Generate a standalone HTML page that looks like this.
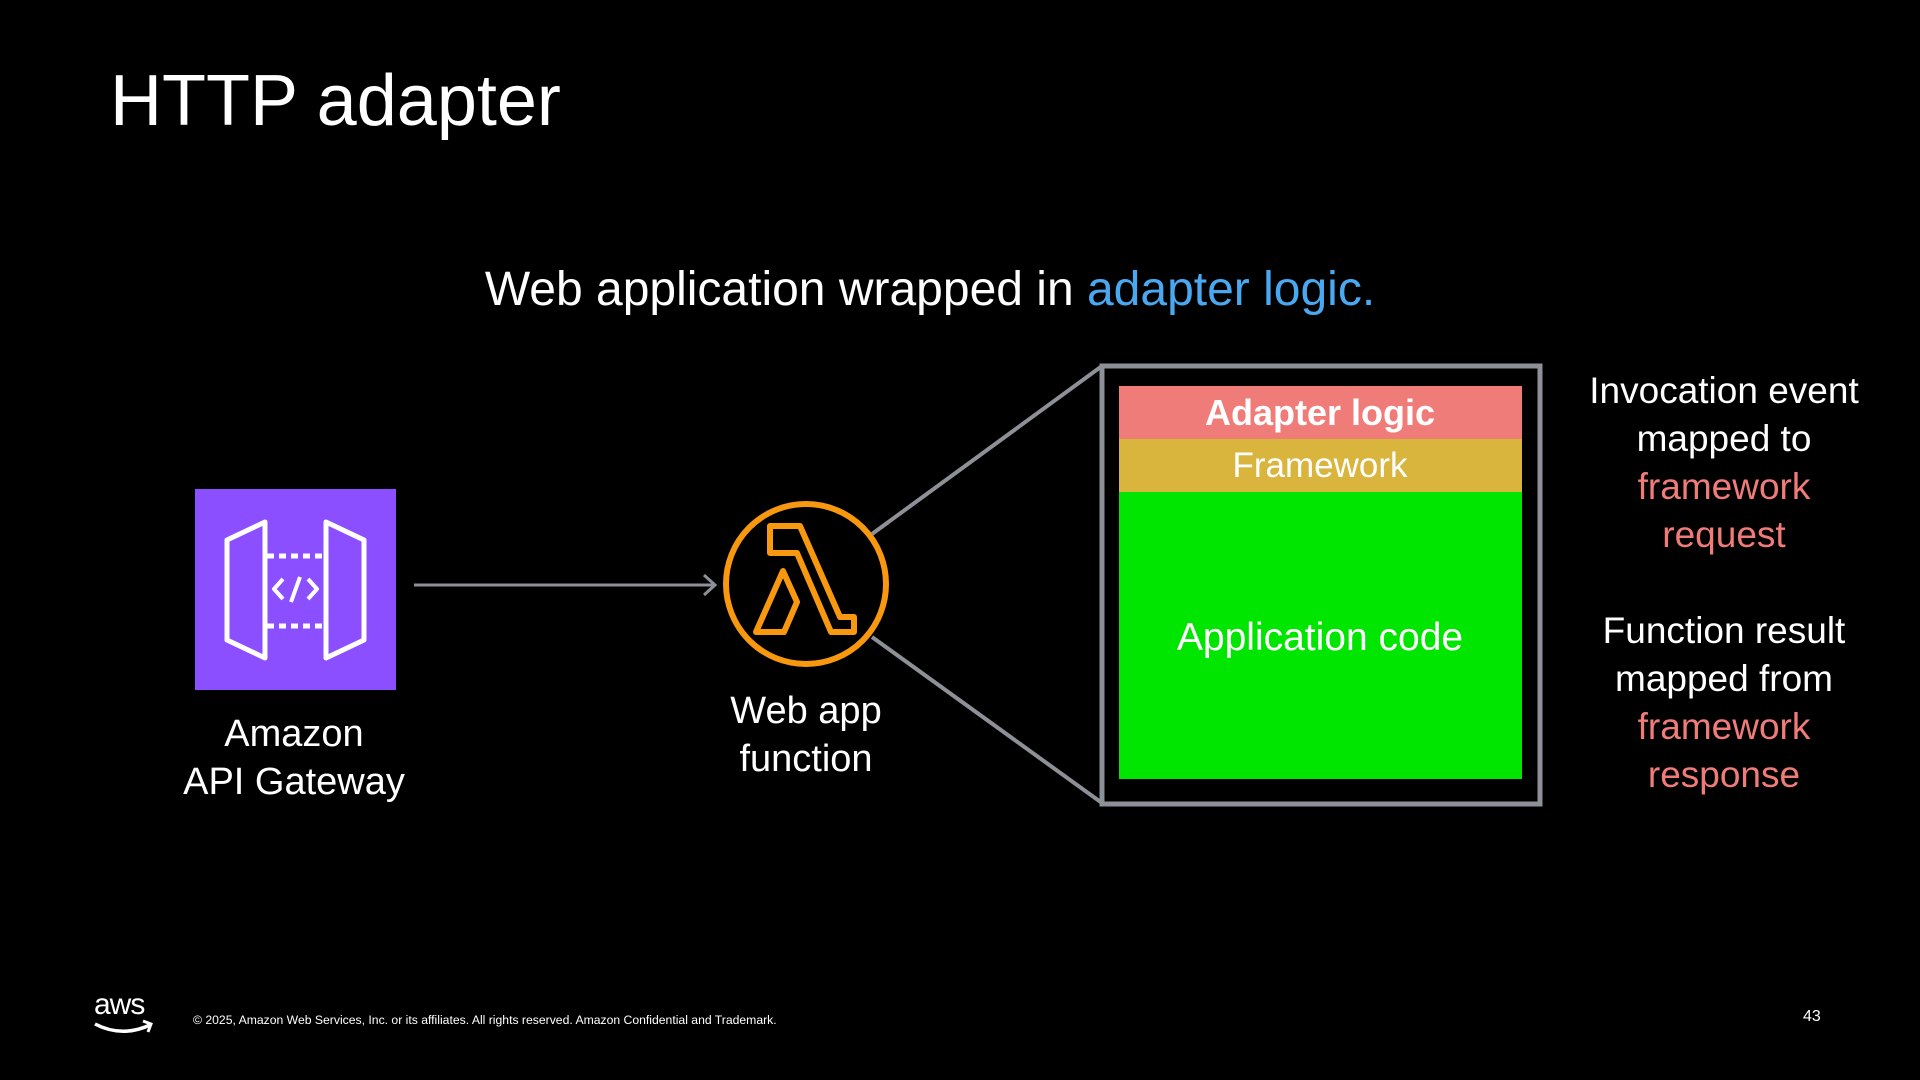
<!DOCTYPE html>
<html><head><meta charset="utf-8"><style>
html,body{margin:0;padding:0;background:#000;}
body{width:1920px;height:1080px;position:relative;overflow:hidden;font-family:"Liberation Sans",sans-serif;color:#fff;}
.t{position:absolute;white-space:nowrap;}
.c{text-align:center;transform:translateX(-50%);}
.pink{color:#f07c7a;}
</style></head><body>
<div class="t" style="left:110px;top:60px;font-size:72px;">HTTP adapter</div>
<div class="t c" style="left:930px;top:262px;font-size:48px;">Web application wrapped in <span style="color:#4aa8f0">adapter logic.</span></div>

<svg width="1920" height="1080" style="position:absolute;left:0;top:0">
  <rect x="195" y="489" width="201" height="201" fill="#8c4fff"/>
  <g fill="none" stroke="#fff" stroke-width="5" stroke-linejoin="round">
    <polygon points="227,540 265,522 265,658 227,640"/>
    <polygon points="364,540 326,522 326,658 364,640"/>
    <line x1="267" y1="556" x2="324" y2="556" stroke-dasharray="7,5"/>
    <line x1="267" y1="626" x2="324" y2="626" stroke-dasharray="7,5"/>
    <polyline points="283,579 274,589 283,599" stroke-width="4"/>
    <polyline points="308,579 317,589 308,599" stroke-width="4"/>
    <line x1="300" y1="577" x2="291" y2="602" stroke-width="4"/>
  </g>
  <line x1="414" y1="585" x2="714" y2="585" stroke="#8d9096" stroke-width="3"/>
  <polyline points="704,575 715,585 704,595" fill="none" stroke="#8d9096" stroke-width="3"/>
  <circle cx="806" cy="584" r="80" fill="none" stroke="#f7980f" stroke-width="6"/>
  <path d="M770,526 L800,526 L840,617 L854,617 L854,632 L831,632 L797,553 L770,553 Z" fill="none" stroke="#f7980f" stroke-width="6" stroke-linejoin="round"/>
  <path d="M783,571 L797,602 L784,632 L756,632 Z" fill="none" stroke="#f7980f" stroke-width="6" stroke-linejoin="round"/>
  <line x1="872" y1="534" x2="1102" y2="366" stroke="#8d9096" stroke-width="4"/>
  <line x1="872" y1="637" x2="1102" y2="803" stroke="#8d9096" stroke-width="4"/>
  <rect x="1102" y="366" width="438" height="438" fill="none" stroke="#8d9096" stroke-width="5"/>
  <rect x="1119" y="386" width="403" height="53" fill="#f07c7a"/>
  <rect x="1119" y="439" width="403" height="53" fill="#dab53e"/>
  <rect x="1119" y="492" width="403" height="287" fill="#00e600"/>
  <path d="M95,1024 Q122,1038 150,1025" fill="none" stroke="#fff" stroke-width="3.5"/>
  <polyline points="143,1021 151,1024 148,1032" fill="none" stroke="#fff" stroke-width="3"/>
</svg>

<div class="t c" style="left:294px;top:710px;font-size:38px;line-height:48px;">Amazon<br>API Gateway</div>
<div class="t c" style="left:806px;top:687px;font-size:38px;line-height:48px;">Web app<br>function</div>
<div class="t c" style="left:1320px;top:392px;font-size:36px;font-weight:bold;">Adapter logic</div>
<div class="t c" style="left:1320px;top:446px;font-size:35px;">Framework</div>
<div class="t c" style="left:1320px;top:616px;font-size:39px;">Application code</div>
<div class="t c" style="left:1724px;top:367px;font-size:37px;line-height:48px;">Invocation event<br>mapped to<br><span class="pink">framework<br>request</span></div>
<div class="t c" style="left:1724px;top:607px;font-size:37px;line-height:48px;">Function result<br>mapped from<br><span class="pink">framework<br>response</span></div>

<div class="t" style="left:94px;top:988px;font-size:30px;letter-spacing:-1px;">aws</div>
<div class="t" style="left:193px;top:1013px;font-size:12.2px;">© 2025, Amazon Web Services, Inc. or its affiliates. All rights reserved. Amazon Confidential and Trademark.</div>
<div class="t" style="left:1803px;top:1008px;font-size:16px;">43</div>
</body></html>
